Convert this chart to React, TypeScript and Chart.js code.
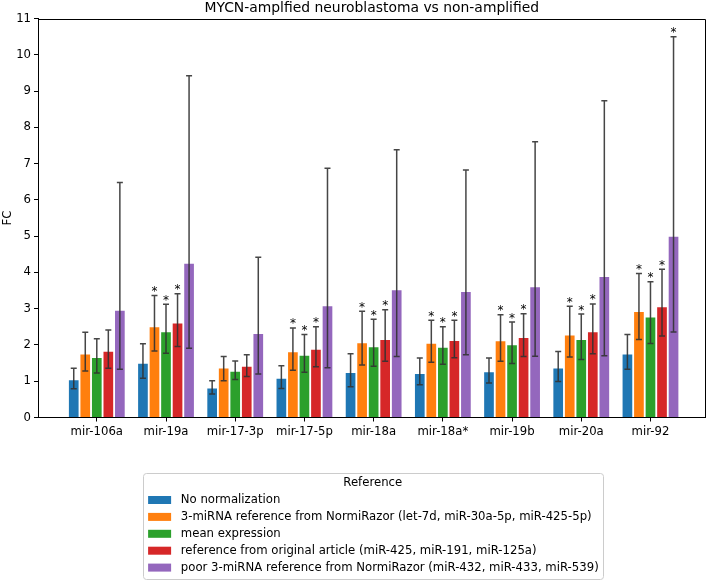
import React, { useEffect, useRef } from 'react';
import { Chart, registerables } from 'chart.js';

Chart.register(...registerables);

const FONT = "'DejaVu Sans', sans-serif";

const categories = ['mir-106a', 'mir-19a', 'mir-17-3p', 'mir-17-5p', 'mir-18a', 'mir-18a*', 'mir-19b', 'mir-20a', 'mir-92'];

const seriesLabels = [
  'No normalization',
  '3-miRNA reference from NormiRazor (let-7d, miR-30a-5p, miR-425-5p)',
  'mean expression',
  'reference from original article (miR-425, miR-191, miR-125a)',
  'poor 3-miRNA reference from NormiRazor (miR-432, miR-433, miR-539)',
];
const seriesColors = ['#1f77b4', '#ff7f0e', '#2ca02c', '#d62728', '#9467bd'];

const noNorm = [1.03, 1.48, 0.8, 1.07, 1.23, 1.2, 1.25, 1.35, 1.74];
const noNormLow = [0.79, 1.08, 0.65, 0.8, 0.85, 0.9, 0.95, 0.99, 1.33];
const noNormHigh = [1.36, 2.03, 1.01, 1.43, 1.76, 1.64, 1.64, 1.82, 2.29];
const noNormSig = [0, 0, 0, 0, 0, 0, 0, 0, 0];

const normiRazor = [1.74, 2.49, 1.35, 1.8, 2.05, 2.03, 2.1, 2.26, 2.91];
const normiRazorLow = [1.28, 1.83, 1.01, 1.3, 1.45, 1.52, 1.55, 1.67, 2.15];
const normiRazorHigh = [2.35, 3.36, 1.68, 2.47, 2.93, 2.68, 2.83, 3.07, 3.97];
const normiRazorSig = [0, 1, 0, 1, 1, 1, 1, 1, 1];

const meanExpr = [1.64, 2.35, 1.26, 1.7, 1.94, 1.92, 1.99, 2.14, 2.76];
const meanExprLow = [1.23, 1.77, 1.05, 1.25, 1.41, 1.47, 1.49, 1.6, 2.04];
const meanExprHigh = [2.17, 3.12, 1.56, 2.29, 2.71, 2.5, 2.63, 2.85, 3.74];
const meanExprSig = [0, 1, 0, 1, 1, 1, 1, 1, 1];

const original = [1.81, 2.59, 1.4, 1.87, 2.14, 2.11, 2.19, 2.35, 3.04];
const originalLow = [1.36, 1.96, 1.13, 1.4, 1.55, 1.65, 1.68, 1.76, 2.25];
const originalHigh = [2.41, 3.41, 1.73, 2.5, 2.97, 2.68, 2.86, 3.13, 4.09];
const originalSig = [0, 1, 0, 1, 1, 1, 1, 1, 1];

const poor = [2.94, 4.24, 2.3, 3.07, 3.51, 3.46, 3.59, 3.87, 4.98];
const poorLow = [1.33, 1.91, 1.2, 1.37, 1.68, 1.73, 1.69, 1.7, 2.36];
const poorHigh = [6.48, 9.42, 4.42, 6.87, 7.38, 6.82, 7.6, 8.73, 10.5];
const poorSig = [0, 0, 0, 0, 0, 0, 0, 0, 1];

const yTicks = [0, 1, 2, 3, 4, 5, 6, 7, 8, 9, 10, 11];

const seriesValues = [noNorm, normiRazor, meanExpr, original, poor];
const seriesLow = [noNormLow, normiRazorLow, meanExprLow, originalLow, poorLow];
const seriesHigh = [noNormHigh, normiRazorHigh, meanExprHigh, originalHigh, poorHigh];
const seriesSig = [noNormSig, normiRazorSig, meanExprSig, originalSig, poorSig];

const TXT = 11.7;

const extrasPlugin = {
  id: 'extras',
  afterDatasetsDraw(chart: any) {
    const ctx = chart.ctx;
    const yScale = chart.scales.y;
    ctx.save();
    seriesValues.forEach((_, di) => {
      const meta = chart.getDatasetMeta(di);
      meta.data.forEach((el: any, j: number) => {
        const x = el.x;
        const yl = yScale.getPixelForValue(seriesLow[di][j]);
        const yh = yScale.getPixelForValue(seriesHigh[di][j]);
        ctx.strokeStyle = 'rgba(50,50,50,0.9)';
        ctx.lineWidth = 1.5;
        ctx.beginPath();
        ctx.moveTo(x, yl);
        ctx.lineTo(x, yh);
        ctx.moveTo(x - 3, yl);
        ctx.lineTo(x + 3, yl);
        ctx.moveTo(x - 3, yh);
        ctx.lineTo(x + 3, yh);
        ctx.stroke();
        if (seriesSig[di][j]) {
          ctx.fillStyle = '#000';
          ctx.font = `12px ${FONT}`;
          ctx.textAlign = 'center';
          ctx.textBaseline = 'alphabetic';
          ctx.fillText('*', x, yh - 0.5);
        }
      });
    });
    ctx.restore();
  },
  afterDraw(chart: any) {
    const ctx = chart.ctx;
    const a = chart.chartArea;
    ctx.save();
    ctx.strokeStyle = '#000';
    ctx.lineWidth = 1;
    ctx.beginPath();
    ctx.moveTo(Math.round(a.left) + 0.5, Math.round(a.top) + 0.5);
    ctx.lineTo(Math.round(a.right) - 0.5, Math.round(a.top) + 0.5);
    ctx.lineTo(Math.round(a.right) - 0.5, Math.round(a.bottom));
    ctx.stroke();

    // legend
    ctx.font = `${TXT}px ${FONT}`;
    let maxW = 0;
    seriesLabels.forEach((t) => {
      maxW = Math.max(maxW, ctx.measureText(t).width);
    });
    const boxW = 38 + maxW + 4;
    const cx = (a.left + a.right) / 2 + 1;
    const left = cx - boxW / 2;
    const top = a.bottom + 55.5;
    const h = 105.5;
    ctx.fillStyle = 'rgba(255,255,255,0.8)';
    ctx.strokeStyle = '#cccccc';
    ctx.lineWidth = 1;
    ctx.beginPath();
    (ctx as any).roundRect(Math.round(left) + 0.5, Math.round(top) + 0.5, Math.round(boxW), Math.round(h), 3);
    ctx.fill();
    ctx.stroke();
    ctx.fillStyle = '#000';
    ctx.textAlign = 'center';
    ctx.textBaseline = 'middle';
    ctx.fillText('Reference', cx, top + 10);
    ctx.textAlign = 'left';
    seriesLabels.forEach((t, i) => {
      const ry = top + 27 + i * 16.9;
      ctx.fillStyle = seriesColors[i];
      ctx.fillRect(left + 5.3, ry - 4, 23, 8);
      ctx.fillStyle = '#000';
      ctx.fillText(t, left + 38, ry);
    });
    ctx.restore();
  },
};

export default function App() {
  const ref = useRef<HTMLCanvasElement | null>(null);
  useEffect(() => {
    document.body.style.margin = '0';
    const canvas = ref.current;
    if (!canvas) return;
    const chart = new Chart(canvas, {
      type: 'bar',
      data: {
        datasets: seriesValues.map((vals, di) => ({
          label: seriesLabels[di],
          data: vals.map((v, j) => ({ x: j, y: v })),
          backgroundColor: seriesColors[di],
          borderWidth: 0,
          categoryPercentage: 0.833,
          barPercentage: 0.84,
        })),
      },
      options: {
        animation: false,
        responsive: false,
        devicePixelRatio: 1,
        layout: { padding: { top: 0, left: 0, right: 3.5, bottom: 0 } },
        plugins: {
          legend: { display: false },
          tooltip: { enabled: false },
          title: {
            display: true,
            text: 'MYCN-amplfied neuroblastoma vs non-amplified',
            fullSize: false,
            color: '#000',
            font: { family: FONT, size: 13.9, weight: 'normal' },
            padding: { top: 0, bottom: 1.82 },
          },
        },
        scales: {
          x: {
            type: 'linear',
            min: -0.8496,
            max: 8.795,
            offset: false,
            afterBuildTicks: (axis: any) => {
              axis.ticks = categories.map((_, i) => ({ value: i }));
            },
            afterFit: (scale: any) => {
              scale.height = 162.5;
            },
            ticks: {
              autoSkip: false,
              maxRotation: 0,
              color: '#000',
              font: { family: FONT, size: TXT },
              padding: 3,
              callback: (v: any) => categories[v] ?? '',
            },
            grid: { display: true, drawOnChartArea: false, drawTicks: true, tickLength: 4, color: '#000', offset: false },
            border: { display: true, color: '#000', width: 1 },
          },
          y: {
            type: 'linear',
            min: 0,
            max: 11,
            afterBuildTicks: (axis: any) => {
              axis.ticks = yTicks.map((v) => ({ value: v }));
            },
            afterFit: (scale: any) => {
              scale.width = 38;
            },
            ticks: {
              color: '#000',
              font: { family: FONT, size: TXT },
              padding: 3,
              callback: (v: any) => String(v),
            },
            title: {
              display: true,
              text: 'FC',
              color: '#000',
              font: { family: FONT, size: TXT },
              padding: { top: 1, bottom: 0 },
            },
            grid: { display: true, drawOnChartArea: false, drawTicks: true, tickLength: 4, color: '#000' },
            border: { display: true, color: '#000', width: 1 },
          },
        },
      },
      plugins: [extrasPlugin],
    } as any);
    return () => chart.destroy();
  }, []);
  return (
    <div style={{ position: 'absolute', left: 0, top: 0 }}>
      <canvas ref={ref} width={709} height={580} style={{ display: 'block' }} />
    </div>
  );
}
